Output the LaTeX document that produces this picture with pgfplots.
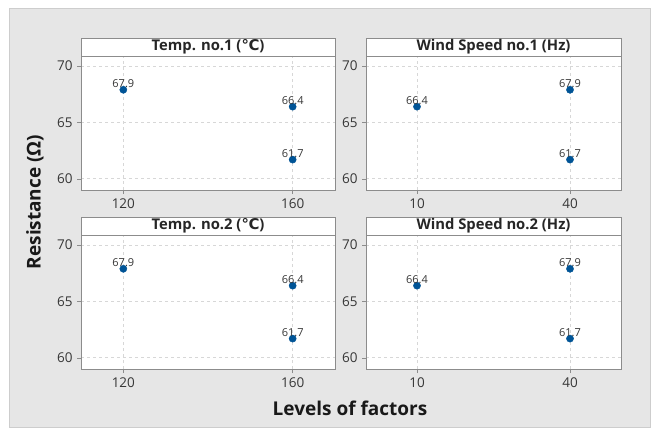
\documentclass[border=0pt]{standalone}
\usepackage{fontspec}
\setmainfont{Open Sans}
\newfontfamily\dejavu{DejaVu Sans}
\usepackage{pgfplots}
\pgfplotsset{compat=1.18}
\definecolor{bgg}{RGB}{230,230,230}
\definecolor{frame}{RGB}{140,140,140}
\definecolor{gridc}{RGB}{215,215,215}
\definecolor{ptc}{RGB}{0,84,150}
\definecolor{txt}{RGB}{55,55,55}
\pgfplotsset{
  every axis title shift=0pt,
  panel/.style={
    scale only axis,
    anchor=south west,
    height=134pt,
    ymin=59, ymax=70.9,
    ytick={60,65,70},
    axis background/.style={fill=white},
    axis line style={frame},
    tick style={frame, line width=0.4pt},
    major tick length=4pt,
    xtick pos=bottom, ytick pos=left,
    tick align=outside,
    grid=major,
    major grid style={gridc, dashed, line width=0.5pt},
    /pgf/number format/assume math mode=true,
    ticklabel style={font=\fontsize{13.5}{16}\selectfont, text=txt},
    xticklabel style={yshift=-1pt},
    yticklabel style={xshift=-1pt},
    title style={at={(0.5,1)}, anchor=south, draw=frame, fill=white,
      minimum height=18pt, inner sep=0pt, yshift=0pt,
      font=\bfseries\fontsize{14.8}{16}\selectfont, text=black!85},
    nodes near coords,
    point meta=explicit symbolic,
    nodes near coords style={font=\fontsize{11}{12}\selectfont, text=txt, anchor=south, yshift=1pt, inner sep=1pt},
  },
  pts/.style={only marks, mark=*, mark size=3.6pt, mark options={fill=ptc, draw=ptc}},
}
\begin{document}
\begin{tikzpicture}
\path[use as bounding box] (0pt,0pt) rectangle (658pt,431pt);
\fill[bgg, draw={rgb,255:red,205;green,205;blue,205}] (9.5pt,3.5pt) rectangle (650.5pt,423pt);
% Panel 1
\begin{axis}[panel, at={(81pt,241pt)}, width=254pt, xmin=110, xmax=170, xtick={120,160},
  title={Temp. no.1 ({\dejavu\bfseries ℃})}, title style={minimum width=254pt}]
\addplot[pts] coordinates {(120,67.9)[67.9] (160,66.4)[66.4] (160,61.7)[61.7]};
\end{axis}
% Panel 2
\begin{axis}[panel, at={(366pt,241pt)}, width=255pt, xmin=0, xmax=50, xtick={10,40},
  title={Wind Speed no.1 (Hz)}, title style={minimum width=255pt}]
\addplot[pts] coordinates {(10,66.4)[66.4] (40,67.9)[67.9] (40,61.7)[61.7]};
\end{axis}
% Panel 3
\begin{axis}[panel, at={(81pt,62pt)}, width=254pt, xmin=110, xmax=170, xtick={120,160},
  title={Temp. no.2 ({\dejavu\bfseries ℃})}, title style={minimum width=254pt}]
\addplot[pts] coordinates {(120,67.9)[67.9] (160,66.4)[66.4] (160,61.7)[61.7]};
\end{axis}
% Panel 4
\begin{axis}[panel, at={(366pt,62pt)}, width=255pt, xmin=0, xmax=50, xtick={10,40},
  title={Wind Speed no.2 (Hz)}, title style={minimum width=255pt}]
\addplot[pts] coordinates {(10,66.4)[66.4] (40,67.9)[67.9] (40,61.7)[61.7]};
\end{axis}
\node[rotate=90, font=\bfseries\fontsize{19}{22}\selectfont, text=black!90] at (35pt,229pt) {Resistance (Ω)};
\node[font=\bfseries\fontsize{19}{22}\selectfont, text=black!90] at (350pt,23pt) {Levels of factors};
\end{tikzpicture}
\end{document}
